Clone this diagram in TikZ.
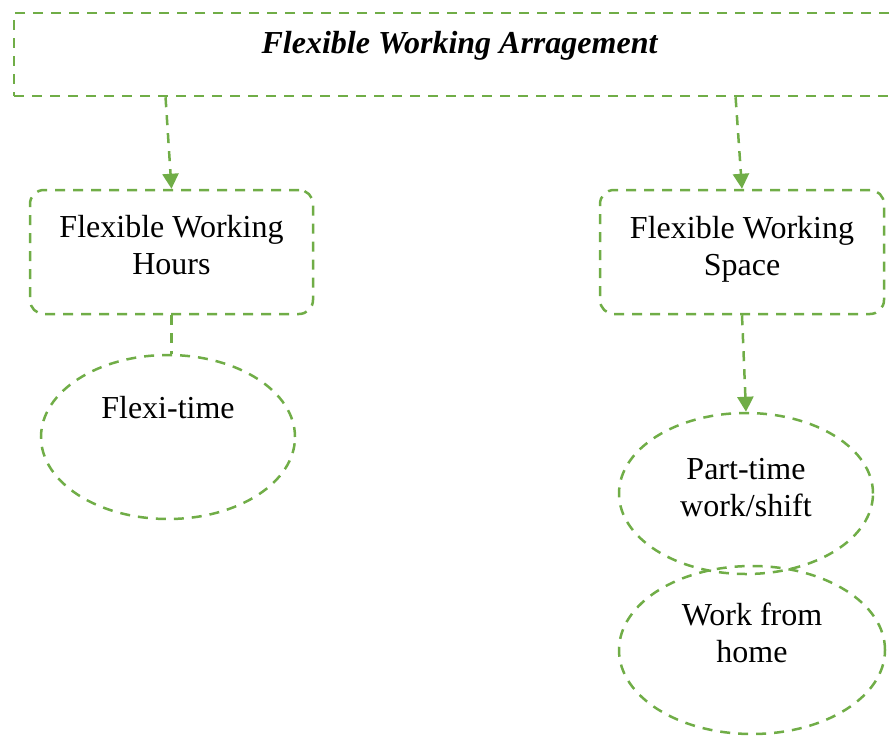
\documentclass[tikz,border=0pt]{standalone}
\usepackage{fontspec}
\setmainfont{Liberation Serif}
\usetikzlibrary{arrows.meta,shapes.geometric,calc}
\definecolor{fwagreen}{RGB}{112,173,71}

\begin{document}
\begin{tikzpicture}[x=1pt, y=-1pt,
    every node/.style={font=\fontsize{32}{37}\selectfont},
    frame/.style={draw=fwagreen, line width=2.5pt, dash pattern=on 10pt off 8pt, inner sep=0pt},
    box/.style={frame, rectangle, rounded corners=14pt, minimum width=283pt, minimum height=124pt},
    oval/.style={frame, ellipse},
    txt/.style={align=center, text=black},
    link/.style={draw=fwagreen, line width=2.5pt, dash pattern=on 10pt off 8pt},
    arrow/.style={link, -{Triangle[length=15pt, width=16pt]}}]

    \useasboundingbox (0,0) rectangle (891,736);

    % Top frame
    \node[frame, rectangle, minimum width=891pt, minimum height=83pt,
        label={[txt, font=\bfseries\itshape\fontsize{32}{37}\selectfont, yshift=9pt]center:Flexible Working Arragement}] (fwa) at (459.5,54.5) {};

    % Second level
    \node[box, label={[txt, yshift=7pt]center:Flexible Working\\Hours}] (hours) at (171.5,252) {};
    \node[box, minimum width=284pt, label={[txt, yshift=2.5pt]center:Flexible Working\\Space}] (space) at (742,252) {};

    % Ovals
    \node[oval, minimum width=254pt, minimum height=164pt, label={[txt, yshift=29pt]center:Flexi-time}] (flexi) at (168,437) {};
    \node[oval, minimum width=254pt, minimum height=161pt, label={[txt, yshift=6pt]center:Part-time\\work/shift}] (parttime) at (746,493.5) {};
    \node[oval, minimum width=266pt, minimum height=168pt, label={[txt, yshift=17.5pt]center:Work from\\home}] (home) at (752,650) {};

    % Draw connections
    \draw[arrow] ($(fwa.south west)!0.171!(fwa.south east)$) -- (hours.north);
    \draw[arrow] ($(fwa.south west)!0.809!(fwa.south east)$) -- (space.north);
    \draw[link] (hours.south) -- (hours.south |- flexi.north);
    \draw[arrow] (space.south) -- (parttime.north);

\end{tikzpicture}
\end{document}
